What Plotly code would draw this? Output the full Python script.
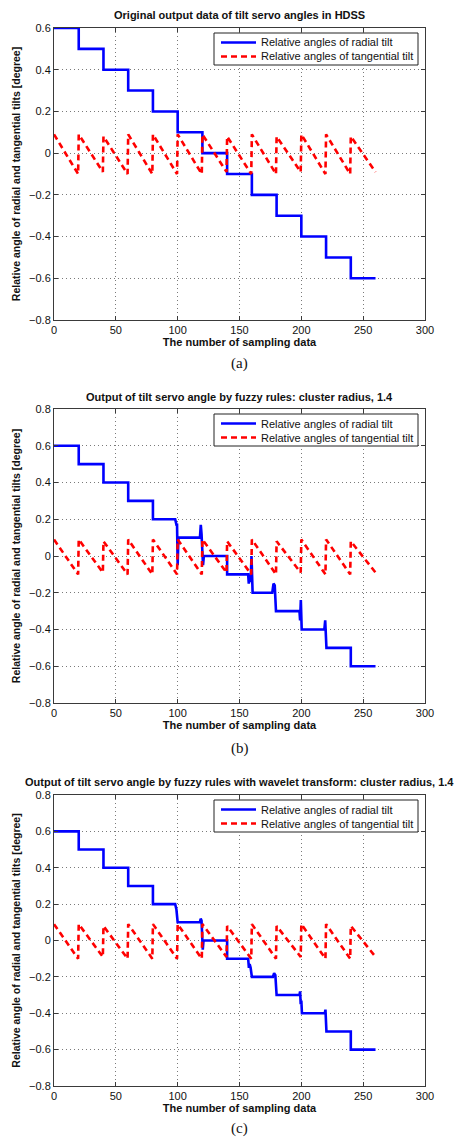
import plotly.graph_objects as go

W, H = 464, 1140

# ---- data -------------------------------------------------------------
# (a) original radial tilt: a 0.1 degree step every 20 samples (held values)
radial_x_a = [0, 20, 40, 60, 80, 100, 120, 140, 160, 180, 200, 220, 240, 260]
radial_y_a = [0.6, 0.5, 0.4, 0.3, 0.2, 0.1, 0.0, -0.1, -0.2, -0.3, -0.4, -0.5, -0.6, -0.6]

# (b) fuzzy-rule output, radial tilt (transients at the step edges)
radial_x_b = [0, 20, 20, 40, 40, 60, 60, 80, 80, 98, 99, 99.5, 100, 100.6,
              118, 118.7, 119.3, 120.5, 121.2, 140, 140, 157, 157.5, 158, 159,
              159.7, 160.6, 176.5, 177.5, 178.5, 179.5, 198.5, 199, 199.6, 200.3,
              218.6, 219.3, 220.3, 240, 240, 260]
radial_y_b = [0.6, 0.6, 0.5, 0.5, 0.4, 0.4, 0.3, 0.3, 0.2, 0.2, 0.17, 0.17, -0.05, 0.1,
              0.1, 0.17, 0.12, -0.05, 0.0, 0.0, -0.1, -0.1, -0.15, -0.13, -0.14,
              0.0, -0.2, -0.2, -0.15, -0.16, -0.3, -0.3, -0.35, -0.24, -0.4,
              -0.4, -0.35, -0.5, -0.5, -0.6, -0.6]

# (c) fuzzy rules with wavelet transform, radial tilt
radial_x_c = [0, 20, 20, 40, 40, 60, 60, 80, 80, 98, 99, 100, 118, 118.6, 119.3,
              120.3, 120.9, 140, 140, 157, 157.6, 158.2, 159, 160, 177, 178, 179,
              180, 198.5, 199, 199.5, 200, 200.5, 219, 219.5, 220.3, 240, 240, 260]
radial_y_c = [0.6, 0.6, 0.5, 0.5, 0.4, 0.4, 0.3, 0.3, 0.2, 0.2, 0.17, 0.1, 0.1, 0.12, 0.11,
              -0.05, 0.0, 0.0, -0.1, -0.1, -0.15, -0.13, -0.15, -0.2, -0.2, -0.18, -0.19,
              -0.3, -0.3, -0.28, -0.35, -0.33, -0.4, -0.4, -0.38, -0.5, -0.5, -0.6, -0.6]

# tangential tilt: sawtooth, one ramp per 20 samples
tangential_x = [0, 19.5, 20, 39.5, 40, 59.5, 60, 79.5, 80, 99.5, 100, 119.5, 120,
                139.5, 140, 159.5, 160, 179.5, 180, 199.5, 200, 219.5, 220, 239.5,
                240, 260]
tangential_y = [0.09, -0.10, 0.09, -0.09, 0.08, -0.10, 0.09, -0.10, 0.09, -0.10,
                0.09, -0.10, 0.09, -0.09, 0.08, -0.10, 0.09, -0.10, 0.08, -0.09,
                0.09, -0.10, 0.09, -0.10, 0.08, -0.09]

x_ticks = [0, 50, 100, 150, 200, 250, 300]
y_ticks_a = [-0.8, -0.6, -0.4, -0.2, 0, 0.2, 0.4, 0.6]
y_ticks_bc = [-0.8, -0.6, -0.4, -0.2, 0, 0.2, 0.4, 0.6, 0.8]

titles = [
    "Original output data of tilt servo angles in HDSS",
    "Output of tilt servo angle by fuzzy rules: cluster radius, 1.4",
    "Output of tilt servo angle by fuzzy rules with wavelet transform: cluster radius, 1.4",
]
captions = ["(a)", "(b)", "(c)"]
radial_name = "Relative angles of radial tilt"
tangential_name = "Relative angles of tangential tilt"
x_title = "The number of sampling data"
y_title = "Relative angle of radial and tangential tilts [degree]"

# ---- layout geometry (pixels from the top of the page) -----------------
PLOT_L, PLOT_R = 54, 425
panels = [  # top, bottom of plot area, title y, caption y
    dict(top=28, bottom=320, title=15, caption=363, yrange=[-0.8, 0.6], yticks=y_ticks_a),
    dict(top=409, bottom=703, title=397, caption=748, yrange=[-0.8, 0.8], yticks=y_ticks_bc),
    dict(top=795, bottom=1086, title=782, caption=1128, yrange=[-0.8, 0.8], yticks=y_ticks_bc),
]
radial = [(radial_x_a, radial_y_a, "hv"), (radial_x_b, radial_y_b, "linear"),
          (radial_x_c, radial_y_c, "linear")]


def py(p):
    """page pixel row -> paper fraction"""
    return 1 - p / H


def px(p):
    """page pixel column -> paper fraction"""
    return (p - PLOT_L) / (PLOT_R - PLOT_L)


FONT = "Liberation Sans, Arial, Helvetica, sans-serif"
BLUE = "#0000ff"
RED = "#ff0000"
FRAME = "#3a3a3a"
GRID = "#7a7a7a"
LINE_W = 2.6
RED_DASH = "6px,4px"

fig = go.Figure()
annotations = []
shapes = []

for i, (pn, (rx, ry, shape)) in enumerate(zip(panels, radial)):
    n = "" if i == 0 else str(i + 1)
    xa, ya = "x" + n, "y" + n
    fig.add_trace(go.Scatter(x=rx, y=ry, mode="lines", name=radial_name,
                             line=dict(color=BLUE, width=LINE_W, shape=shape),
                             xaxis=xa, yaxis=ya, showlegend=False))
    fig.add_trace(go.Scatter(x=tangential_x, y=tangential_y, mode="lines",
                             name=tangential_name,
                             line=dict(color=RED, width=LINE_W, dash=RED_DASH),
                             xaxis=xa, yaxis=ya, showlegend=False))

    axis_common = dict(showline=True, mirror="ticks", linecolor=FRAME, linewidth=1,
                       ticks="inside", ticklen=4, tickcolor=FRAME,
                       showgrid=True, gridcolor=GRID, griddash="1px,3px", gridwidth=1,
                       zeroline=False, automargin=False,
                       tickfont=dict(family=FONT, size=11, color="#111"))
    fig.update_layout(**{
        "xaxis" + n: dict(axis_common, domain=[0, 1], range=[0, 300],
                          tickvals=x_ticks, anchor=ya,
                          title=dict(text=x_title, standoff=2,
                                     font=dict(family=FONT, size=11, color="#111",
                                               weight="bold"))),
        "yaxis" + n: dict(axis_common, domain=[py(pn["bottom"]), py(pn["top"])],
                          range=pn["yrange"], tickvals=pn["yticks"], anchor=xa,
                          title=dict(text=y_title, standoff=6,
                                     font=dict(family=FONT, size=10.5, color="#111",
                                               weight="bold"))),
    })

    # legend box with line samples
    top = pn["top"]
    shapes.append(dict(type="rect", xref="paper", yref="paper",
                       x0=px(214), x1=px(418), y0=py(top + 37), y1=py(top + 5),
                       line=dict(color="#222", width=1), fillcolor="white", layer="above"))
    for k, (nm, col, dash) in enumerate([(radial_name, BLUE, "solid"),
                                         (tangential_name, RED, RED_DASH)]):
        yrow = top + 14.5 + 14 * k
        shapes.append(dict(type="line", xref="paper", yref="paper",
                           x0=px(221), x1=px(256), y0=py(yrow), y1=py(yrow),
                           line=dict(color=col, width=LINE_W, dash=dash), layer="above"))
        annotations.append(dict(text=nm, xref="paper", yref="paper",
                                x=px(259), y=py(yrow), xanchor="left", yanchor="middle",
                                showarrow=False,
                                font=dict(family=FONT, size=11, color="#111")))

    annotations.append(dict(text="<b>%s</b>" % titles[i], xref="paper", yref="paper",
                            x=0.5, y=py(pn["title"]), xanchor="center", yanchor="middle",
                            showarrow=False, font=dict(family=FONT, size=11, color="#111")))
    annotations.append(dict(text=captions[i], xref="paper", yref="paper",
                            x=0.5, y=py(pn["caption"]), xanchor="center", yanchor="middle",
                            showarrow=False,
                            font=dict(family="Liberation Serif, Times New Roman, serif",
                                      size=15, color="#111")))

fig.update_layout(width=W, height=H, plot_bgcolor="white", paper_bgcolor="white",
                  margin=dict(l=PLOT_L, r=W - PLOT_R, t=0, b=0, autoexpand=False),
                  showlegend=False, annotations=annotations, shapes=shapes)

fig.write_html("out.html")
